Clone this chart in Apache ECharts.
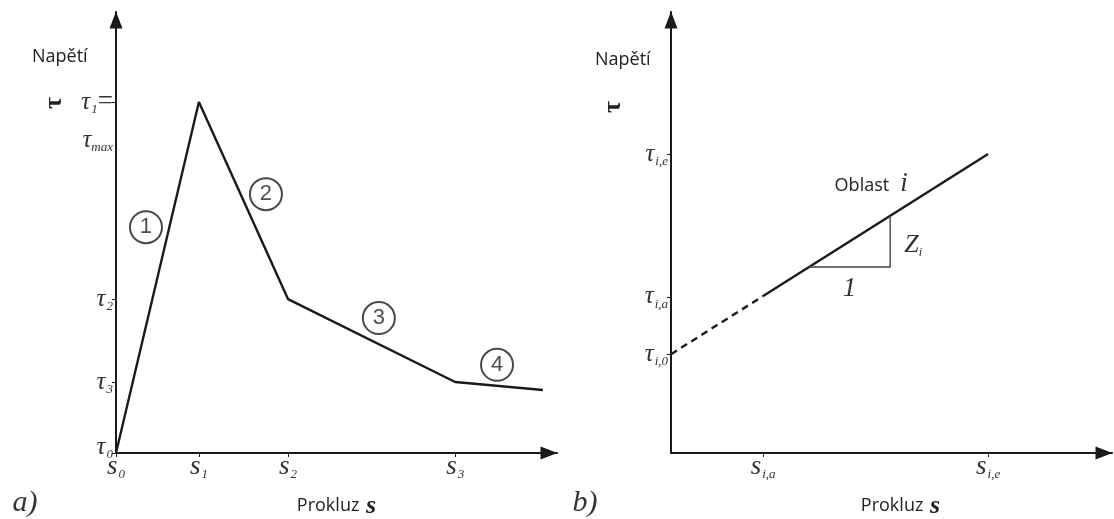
<!DOCTYPE html>
<html>
<head>
<meta charset="utf-8">
<script src="https://cdn.jsdelivr.net/npm/echarts@6/dist/echarts.min.js"></script>
<style>
html, body { margin: 0; padding: 0; background: #fff; }
#chart { width: 1114px; height: 519px; }
</style>
</head>
<body>
<div id="chart"></div>
<script>
// a) multilinear bond–slip law (both axes run 0..100)
const slipA = [0, 18.8, 39.0, 76.9, 96.8];
const stressA = [0, 79.6, 34.9, 16.1, 14.3];
const slipTicksA = [0, 18.8, 39.0, 76.9];
const slipTickSubsA = ['0', '1', '2', '3'];
const stressTicksA = [0, 16.1, 34.9, 79.6];
const stressTickSubsA = ['0', '3', '2', '1'];
// circled segment numbers and where they sit
const segmentTags = ['1', '2', '3', '4'];
const segmentTagSlip = [6.8, 34.0, 59.6, 86.4];
const segmentTagStress = [51.2, 58.7, 30.6, 20.0];

// b) one linear region i of the law
const slipB = [0, 20.9, 71.9];
const stressB = [22.4, 35.6, 67.8];
const slipTicksB = [20.9, 71.9];
const slipTickSubsB = ['i,a', 'i,e'];
const stressTicksB = [22.4, 35.4, 67.8];
const stressTickSubsB = ['i,0', 'i,a', 'i,e'];
// slope triangle: run 1, rise Z_i
const slopeRunSlip = [31.3, 49.7];

const INK = '#1a1a1a';
const TXT = '#333';
const SERIF = '"Liberation Serif", "DejaVu Serif", serif';
const SANS = '"Open Sans", "Noto Sans", "Liberation Sans", sans-serif';

const richY = {
  t: { fontFamily: SERIF, fontStyle: 'italic', fontSize: 25, color: TXT, lineHeight: 38 },
  s: { fontFamily: SERIF, fontStyle: 'italic', fontSize: 13, color: TXT, padding: [15, 0, 0, 1], lineHeight: 14 },
  m: { fontFamily: SERIF, fontStyle: 'italic', fontSize: 13, color: TXT, padding: [15, 0, 0, 0], lineHeight: 14 },
  e: { fontFamily: SERIF, fontSize: 27, color: TXT, lineHeight: 38 },
  b: { fontSize: 10, lineHeight: 38 },
  g: { fontSize: 10, lineHeight: 12 }
};
const richX = {
  t: { fontFamily: SERIF, fontStyle: 'italic', fontSize: 27, color: TXT, lineHeight: 26 },
  s: { fontFamily: SERIF, fontStyle: 'italic', fontSize: 13, color: TXT, padding: [16, 0, 0, 1], lineHeight: 14 }
};

function subOf(values, subs) {
  return v => {
    const i = values.findIndex(x => Math.abs(x - v) < 1e-6);
    return i < 0 ? '' : subs[i];
  };
}
const subSlipA = subOf(slipTicksA, slipTickSubsA);
const subStressA = subOf(stressTicksA, stressTickSubsA);
const subSlipB = subOf(slipTicksB, slipTickSubsB);
const subStressB = subOf(stressTicksB, stressTickSubsB);

const arrowLine = {
  show: true,
  onZero: false,
  symbol: ['none', 'triangle'],
  symbolSize: [13, 17],
  symbolOffset: [0, -8],
  lineStyle: { color: INK, width: 2 }
};

function xAxisFor(gridIndex, ticks, subFn, namePad) {
  return {
    type: 'value', gridIndex, min: 0, max: 100,
    splitLine: { show: false },
    axisLine: arrowLine,
    axisTick: { show: true, customValues: ticks, length: 4, inside: false, lineStyle: { color: INK, width: 1 } },
    axisLabel: {
      customValues: ticks, margin: 1,
      formatter: v => '{t|s}{s|' + subFn(v) + '}',
      rich: richX
    },
    name: '{n|Prokluz}  {v|s}',
    nameLocation: 'middle', nameGap: 40,
    nameTextStyle: {
      padding: [0, 0, 0, namePad],
      rich: {
        n: { fontFamily: SANS, fontSize: 18, color: '#222' },
        v: { fontFamily: SERIF, fontWeight: 'bold', fontStyle: 'italic', fontSize: 26, color: '#222' }
      }
    }
  };
}

function yAxisFor(gridIndex, ticks, subFn, withMax) {
  return {
    type: 'value', gridIndex, min: 0, max: 100,
    splitLine: { show: false },
    axisLine: arrowLine,
    axisTick: { show: true, customValues: ticks, length: 4, inside: false, lineStyle: { color: INK, width: 1 } },
    axisLabel: {
      customValues: ticks, margin: 3,
      formatter: v => {
        const sub = subFn(v);
        if (withMax && sub === '1') {
          return '{b| }\n{t|τ}{s|1}{e|=}\n{t|τ}{m|max}';
        }
        if (withMax && sub === '0') {
          // lifted a little so it clears the slip label at the origin
          return '{t|τ}{s|0}\n{g| }';
        }
        return '{t|τ}{s|' + sub + '}';
      },
      rich: richY
    }
  };
}

function pairs(xs, ys) { return xs.map((x, i) => [x, ys[i]]); }

// points of the slope triangle on the region line
const lineB = x => stressB[0] + (stressB[2] - stressB[0]) * x / slipB[2];
const triA = [slopeRunSlip[0], lineB(slopeRunSlip[0])];
const triB = [slopeRunSlip[1], lineB(slopeRunSlip[0])];
const triC = [slopeRunSlip[1], lineB(slopeRunSlip[1])];

const chart = echarts.init(document.getElementById('chart'), null, { renderer: 'canvas' });

chart.setOption({
  animation: false,
  backgroundColor: '#fff',
  grid: [
    { left: 116, top: 12, width: 441, height: 441, containLabel: false, outerBoundsMode: 'none' },
    { left: 671, top: 12, width: 441, height: 441, containLabel: false, outerBoundsMode: 'none' }
  ],
  xAxis: [
    xAxisFor(0, slipTicksA, subSlipA, 0),
    xAxisFor(1, slipTicksB, subSlipB, 18)
  ],
  yAxis: [
    yAxisFor(0, stressTicksA, subStressA, true),
    yAxisFor(1, stressTicksB, subStressB, false)
  ],
  series: [
    {
      type: 'line', xAxisIndex: 0, yAxisIndex: 0,
      data: pairs(slipA, stressA),
      showSymbol: false, silent: true,
      lineStyle: { color: INK, width: 2.4 }
    },
    {
      type: 'scatter', xAxisIndex: 0, yAxisIndex: 0,
      data: segmentTags.map((t, i) => [segmentTagSlip[i], segmentTagStress[i], t]),
      symbol: 'circle', symbolSize: 32, silent: true,
      itemStyle: { color: '#fff', borderColor: INK, borderWidth: 2 },
      label: {
        show: true, position: 'inside',
        formatter: p => p.value[2],
        fontFamily: '"Liberation Sans", Arial, sans-serif', fontSize: 22, color: '#222'
      }
    },
    {
      type: 'line', xAxisIndex: 1, yAxisIndex: 1,
      data: pairs(slipB.slice(0, 2), stressB.slice(0, 2)),
      showSymbol: false, silent: true,
      lineStyle: { color: INK, width: 2.4, type: [7, 5] }
    },
    {
      type: 'line', xAxisIndex: 1, yAxisIndex: 1,
      data: pairs(slipB.slice(1), stressB.slice(1)),
      showSymbol: false, silent: true,
      lineStyle: { color: INK, width: 2.4 }
    },
    {
      type: 'line', xAxisIndex: 1, yAxisIndex: 1,
      data: [triA, triB, triC],
      showSymbol: false, silent: true,
      lineStyle: { color: '#444', width: 1.4 }
    }
  ]
});

// texts placed around the panels
const g = [];
function txt(x, y, text, style, extra) {
  g.push(Object.assign({ type: 'text', x, y, silent: true, style: Object.assign({ text, fill: '#222' }, style) }, extra || {}));
}
txt(32, 57, 'Napětí', { font: '18px ' + SANS, verticalAlign: 'middle' });
txt(595, 60, 'Napětí', { font: '18px ' + SANS, verticalAlign: 'middle' });
txt(54, 103, 'τ', { font: 'bold 26px ' + SERIF, align: 'center', verticalAlign: 'middle' }, { rotation: Math.PI / 2 });
txt(613, 107, 'τ', { font: 'bold 26px ' + SERIF, align: 'center', verticalAlign: 'middle' }, { rotation: Math.PI / 2 });
txt(25, 503, 'a)', { font: 'italic 30px ' + SERIF, align: 'center', verticalAlign: 'middle', fill: '#333' });
txt(585, 503, 'b)', { font: 'italic 30px ' + SERIF, align: 'center', verticalAlign: 'middle', fill: '#333' });

const ob = chart.convertToPixel({ xAxisIndex: 1, yAxisIndex: 1 }, [49.7, lineB(49.7)]);
txt(ob[0] - 1, ob[1] - 30, 'Oblast', { font: '18px ' + SANS, align: 'right', verticalAlign: 'middle' });
txt(ob[0] + 10, ob[1] - 32, 'i', { font: 'italic 27px ' + SERIF, align: 'left', verticalAlign: 'middle', fill: '#333' });
const zi = chart.convertToPixel({ xAxisIndex: 1, yAxisIndex: 1 }, [slopeRunSlip[1], (triB[1] + triC[1]) / 2]);
g.push({
  type: 'text', x: zi[0] + 14, y: zi[1] + 4, silent: true,
  style: {
    text: '{z|Z}{i|i}', verticalAlign: 'middle', align: 'left',
    rich: {
      z: { fontFamily: SERIF, fontStyle: 'italic', fontSize: 26, fill: '#333' },
      i: { fontFamily: SERIF, fontStyle: 'italic', fontSize: 12, fill: '#333', padding: [15, 0, 0, 0] }
    }
  }
});
const run = chart.convertToPixel({ xAxisIndex: 1, yAxisIndex: 1 }, [(triA[0] + triB[0]) / 2, triA[1]]);
txt(run[0], run[1] + 22, '1', { font: 'italic 27px ' + SERIF, align: 'center', verticalAlign: 'middle', fill: '#333' });

chart.setOption({ graphic: g });
</script>
</body>
</html>
